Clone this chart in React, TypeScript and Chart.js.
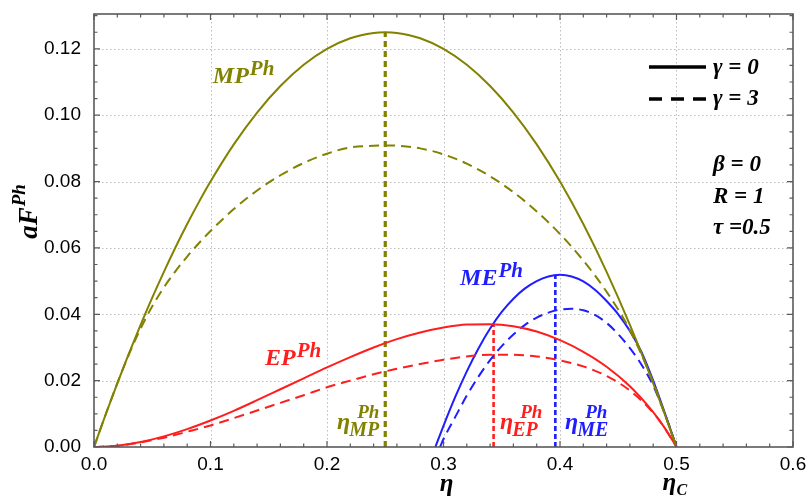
import React, { useEffect, useRef } from 'react';
import { Chart, registerables } from 'chart.js';

Chart.register(...registerables);

// ---- data ----
const etaMP = [0, 0.01, 0.02, 0.03, 0.04, 0.05, 0.06, 0.07, 0.08, 0.09, 0.10, 0.12, 0.14, 0.16, 0.18, 0.20, 0.22, 0.24, 0.25, 0.26, 0.28, 0.30, 0.32, 0.34, 0.36, 0.38, 0.40, 0.42, 0.44, 0.46, 0.48, 0.49, 0.50];
const mpGamma0 = [0, 0.0098, 0.0192, 0.0282, 0.0368, 0.0450, 0.0528, 0.0602, 0.0672, 0.0738, 0.0800, 0.0912, 0.1008, 0.1088, 0.1152, 0.1200, 0.1232, 0.1248, 0.1250, 0.1248, 0.1232, 0.1200, 0.1152, 0.1088, 0.1008, 0.0912, 0.0800, 0.0672, 0.0528, 0.0368, 0.0192, 0.0098, 0];
const mpGamma3 = [0, 0.0098, 0.0192, 0.0279, 0.0357, 0.0424, 0.0481, 0.0530, 0.0574, 0.0614, 0.0651, 0.0717, 0.0773, 0.0819, 0.0856, 0.0884, 0.0903, 0.0908, 0.0909, 0.0908, 0.0900, 0.0882, 0.0854, 0.0816, 0.0768, 0.0710, 0.0642, 0.0562, 0.0468, 0.0352, 0.0195, 0.0099, 0];

const etaEP = [0, 0.02, 0.04, 0.06, 0.08, 0.10, 0.12, 0.14, 0.16, 0.18, 0.20, 0.22, 0.24, 0.26, 0.28, 0.30, 0.32, 0.34, 0.36, 0.38, 0.40, 0.42, 0.44, 0.46, 0.48, 0.49, 0.50];
const epGamma0 = [0, 0.0004, 0.0015, 0.0032, 0.0054, 0.0080, 0.0109, 0.0141, 0.0174, 0.0207, 0.0240, 0.0271, 0.0300, 0.0325, 0.0345, 0.0360, 0.0369, 0.0370, 0.0364, 0.0348, 0.0322, 0.0287, 0.0242, 0.0183, 0.0105, 0.0057, 0];
const epGamma3 = [0, 0.0004, 0.0014, 0.0028, 0.0046, 0.0065, 0.0087, 0.0110, 0.0133, 0.0156, 0.0180, 0.0200, 0.0219, 0.0236, 0.0250, 0.0263, 0.0273, 0.0278, 0.0278, 0.0273, 0.0261, 0.0243, 0.0214, 0.0170, 0.0103, 0.0056, 0];

const etaME0 = [0.293, 0.30, 0.31, 0.32, 0.33, 0.34, 0.35, 0.36, 0.37, 0.38, 0.39, 0.40, 0.41, 0.42, 0.43, 0.44, 0.45, 0.46, 0.47, 0.48, 0.49, 0.50];
const meGamma0 = [0, 0.0064, 0.0150, 0.0228, 0.0297, 0.0357, 0.0407, 0.0447, 0.0478, 0.0500, 0.0514, 0.0519, 0.0514, 0.0499, 0.0474, 0.0440, 0.0400, 0.0350, 0.0286, 0.0200, 0.0102, 0];
const etaME3 = [0.297, 0.30, 0.31, 0.32, 0.33, 0.34, 0.35, 0.36, 0.37, 0.38, 0.39, 0.40, 0.41, 0.42, 0.43, 0.44, 0.45, 0.46, 0.47, 0.48, 0.49, 0.50];
const meGamma3 = [0, 0.0024, 0.0090, 0.0155, 0.0212, 0.0262, 0.0304, 0.0339, 0.0368, 0.0390, 0.0405, 0.0414, 0.0417, 0.0412, 0.0398, 0.0374, 0.0340, 0.0298, 0.0248, 0.0185, 0.0100, 0];

// optimal efficiencies (MP, EP, ME) and their peak values
const optNames = ['MP', 'EP', 'ME'];
const optEta = [0.25, 0.343, 0.396];
const optPeak = [0.125, 0.0371, 0.0519];

const xTickStep = 0.1;
const yTickStep = 0.02;
const xMax = 0.6;
const yMax = 0.1305;

const legendItems = ['γ = 0', 'γ = 3'];
const paramTexts = ['β = 0', 'R = 1', 'τ =0.5'];

const OLIVE = '#828200';
const RED = '#ff1e1e';
const BLUE = '#1e1eff';
const optColors = [OLIVE, RED, BLUE];
const SERIF = '"Liberation Serif", "DejaVu Serif", serif';
const SANS = '"Liberation Sans", Arial, sans-serif';

const pts = (xs: number[], ys: number[]) => xs.map((x, i) => ({ x, y: ys[i] }));

function fontBI(size: number) {
  return `italic bold ${size}px ${SERIF}`;
}

function drawSupLabel(ctx: CanvasRenderingContext2D, x: number, y: number, main: string, sup: string, color: string) {
  ctx.fillStyle = color;
  ctx.textBaseline = 'alphabetic';
  ctx.textAlign = 'left';
  ctx.font = fontBI(24);
  ctx.fillText(main, x, y);
  const w = ctx.measureText(main).width;
  ctx.font = fontBI(21);
  ctx.fillText(sup, x + w + 1, y - 8);
}

function drawEtaLabel(ctx: CanvasRenderingContext2D, x: number, y: number, sub: string, color: string) {
  ctx.fillStyle = color;
  ctx.textBaseline = 'alphabetic';
  ctx.textAlign = 'left';
  ctx.font = fontBI(24);
  ctx.fillText('η', x, y);
  const w = ctx.measureText('η').width;
  ctx.font = fontBI(20);
  ctx.fillText(sub, x + w - 1, y + 7);
  ctx.font = fontBI(19);
  ctx.fillText('Ph', x + w + 7, y - 11);
}

const decorPlugin = {
  id: 'decor',
  beforeDatasetsDraw(chart: any) {
    const { ctx, chartArea: a, scales } = chart;
    ctx.save();
    ctx.strokeStyle = '#bdbdbd';
    ctx.lineWidth = 1;
    ctx.setLineDash([1.5, 2.5]);
    for (const t of scales.x.ticks) {
      if (t.value <= 0 || t.value >= xMax - 1e-9) continue;
      const px = Math.round(scales.x.getPixelForValue(t.value)) + 0.5;
      ctx.beginPath();
      ctx.moveTo(px, a.top);
      ctx.lineTo(px, a.bottom);
      ctx.stroke();
    }
    for (const t of scales.y.ticks) {
      if (t.value <= 0 || t.value >= yMax) continue;
      const py = Math.round(scales.y.getPixelForValue(t.value)) + 0.5;
      ctx.beginPath();
      ctx.moveTo(a.left, py);
      ctx.lineTo(a.right, py);
      ctx.stroke();
    }
    ctx.restore();
  },
  afterDatasetsDraw(chart: any) {
    const { ctx, chartArea: a, scales } = chart;
    const sx = scales.x, sy = scales.y;
    ctx.save();
    // frame
    ctx.setLineDash([]);
    ctx.strokeStyle = '#5a5a5a';
    ctx.lineWidth = 1.6;
    ctx.strokeRect(a.left, a.top, a.right - a.left, a.bottom - a.top);
    // inward ticks
    ctx.lineWidth = 1.2;
    for (let i = 0; i <= Math.round(xMax / 0.02); i++) {
      const v = i * 0.02;
      const px = sx.getPixelForValue(v);
      const len = i % 5 === 0 ? 6 : 3.5;
      ctx.beginPath();
      ctx.moveTo(px, a.bottom); ctx.lineTo(px, a.bottom - len);
      ctx.moveTo(px, a.top); ctx.lineTo(px, a.top + len);
      ctx.stroke();
    }
    for (let i = 0; i * 0.005 <= yMax; i++) {
      const v = i * 0.005;
      const py = sy.getPixelForValue(v);
      const len = i % 4 === 0 ? 6 : 3.5;
      ctx.beginPath();
      ctx.moveTo(a.left, py); ctx.lineTo(a.left + len, py);
      ctx.moveTo(a.right, py); ctx.lineTo(a.right - len, py);
      ctx.stroke();
    }

    // curve labels
    drawSupLabel(ctx, sx.getPixelForValue(0.102), sy.getPixelForValue(0.1098), 'MP', 'Ph', OLIVE);
    drawSupLabel(ctx, sx.getPixelForValue(0.1468), sy.getPixelForValue(0.0246), 'EP', 'Ph', RED);
    drawSupLabel(ctx, sx.getPixelForValue(0.3142), sy.getPixelForValue(0.0487), 'ME', 'Ph', BLUE);

    // optimal-efficiency labels
    const etaLabelX = [0.2086, 0.3485, 0.4043];
    optNames.forEach((n, i) => {
      drawEtaLabel(ctx, sx.getPixelForValue(etaLabelX[i]), sy.getPixelForValue(0.0054), n, optColors[i]);
    });

    // legend
    ctx.strokeStyle = '#000';
    ctx.lineWidth = 3.5;
    const lx0 = a.right - 144, lx1 = a.right - 87;
    ctx.beginPath(); ctx.moveTo(lx0, a.top + 53); ctx.lineTo(lx1, a.top + 53); ctx.stroke();
    ctx.setLineDash([13, 9]);
    ctx.beginPath(); ctx.moveTo(lx0, a.top + 85); ctx.lineTo(lx1, a.top + 85); ctx.stroke();
    ctx.setLineDash([]);
    ctx.fillStyle = '#000';
    ctx.font = fontBI(23);
    ctx.textAlign = 'left';
    ctx.textBaseline = 'alphabetic';
    ctx.fillText(legendItems[0], a.right - 80, a.top + 60);
    ctx.fillText(legendItems[1], a.right - 80, a.top + 91);
    const paramY = [157, 189, 220];
    paramTexts.forEach((t, i) => ctx.fillText(t, a.right - 80, a.top + paramY[i]));

    // axis titles
    ctx.font = fontBI(25);
    ctx.textAlign = 'center';
    ctx.fillText('η', (a.left + a.right) / 2 + 3, 491);
    const cx = sx.getPixelForValue(0.5);
    ctx.textAlign = 'left';
    ctx.fillText('η', cx - 14, 490);
    ctx.font = fontBI(16);
    ctx.fillText('C', cx, 495);

    // y title (rotated)
    ctx.save();
    ctx.translate(37, 212);
    ctx.rotate(-Math.PI / 2);
    ctx.textAlign = 'left';
    ctx.font = fontBI(27);
    const main = 'aF';
    const mw = ctx.measureText(main).width;
    ctx.font = fontBI(19);
    const sw = ctx.measureText('Ph').width;
    const start = -(mw + sw) / 2;
    ctx.font = fontBI(27);
    ctx.fillText(main, start, 0);
    ctx.font = fontBI(19);
    ctx.fillText('Ph', start + mw + 1, -12);
    ctx.restore();

    ctx.restore();
  },
};

export default function App() {
  const ref = useRef<HTMLCanvasElement | null>(null);
  useEffect(() => {
    if (!ref.current) return;
    const solid = (data: any, color: string) => ({
      data, borderColor: color, borderWidth: 2, pointRadius: 0, fill: false,
      cubicInterpolationMode: 'monotone' as const,
    });
    const dashed = (data: any, color: string) => ({
      ...solid(data, color), borderDash: [10, 6],
    });
    const vlines = optEta.map((e, i) => ({
      data: [{ x: e, y: 0 }, { x: e, y: optPeak[i] }],
      borderColor: optColors[i], borderWidth: i === 0 ? 3.2 : 2.6, pointRadius: 0,
      borderDash: i === 0 ? [6, 4] : [5, 3], tension: 0, fill: false,
    }));
    const chart = new Chart(ref.current, {
      type: 'line',
      data: {
        datasets: [
          solid(pts(etaMP, mpGamma0), OLIVE),
          dashed(pts(etaMP, mpGamma3), OLIVE),
          solid(pts(etaEP, epGamma0), RED),
          dashed(pts(etaEP, epGamma3), RED),
          solid(pts(etaME0, meGamma0), BLUE),
          dashed(pts(etaME3, meGamma3), BLUE),
          ...vlines,
        ] as any,
      },
      options: {
        responsive: false,
        maintainAspectRatio: false,
        animation: false,
        layout: { padding: { top: 14, right: 13, left: 0, bottom: 0 } },
        plugins: { legend: { display: false }, tooltip: { enabled: false }, title: { display: false } },
        scales: {
          x: {
            type: 'linear', min: 0, max: xMax,
            grid: { display: false },
            border: { display: false },
            ticks: {
              stepSize: xTickStep, padding: -2, color: '#000',
              font: { family: SANS, size: 19 },
              callback: (v: any) => Number(v).toFixed(1),
            },
            afterFit: (s: any) => { s.height = 55; s.paddingLeft = 0; s.paddingRight = 0; },
          },
          y: {
            type: 'linear', min: 0, max: yMax,
            grid: { display: false },
            border: { display: false },
            ticks: {
              stepSize: yTickStep, padding: 5, color: '#000', includeBounds: false,
              font: { family: SANS, size: 19 },
              callback: (v: any) => Number(v).toFixed(2),
            },
            afterFit: (s: any) => { s.width = 94; s.paddingTop = 0; s.paddingBottom = 0; },
          },
        },
      } as any,
      plugins: [decorPlugin],
    });
    return () => chart.destroy();
  }, []);
  return (
    <div style={{ position: 'absolute', left: 0, top: 0, width: 806, height: 502, background: '#fff' }}>
      <canvas ref={ref} width={806} height={502} style={{ width: 806, height: 502, display: 'block' }} />
    </div>
  );
}
